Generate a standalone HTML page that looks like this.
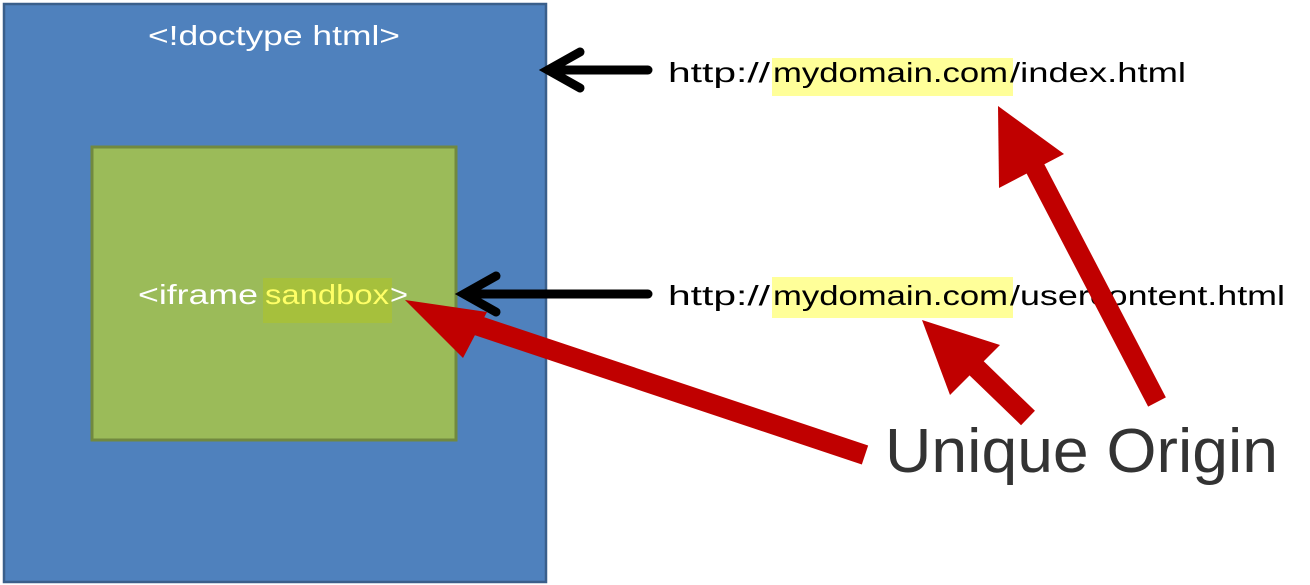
<!DOCTYPE html>
<html><head><meta charset="utf-8"><style>html,body{margin:0;padding:0;background:#fff}svg{display:block}</style></head>
<body>
<svg width="1310" height="585" viewBox="0 0 1310 585" xmlns="http://www.w3.org/2000/svg" font-family="Liberation Sans, sans-serif">
<rect x="4" y="4" width="542" height="578" fill="#4f81bd" stroke="#3a5f8b" stroke-width="2.5"/>
<rect x="92" y="147" width="364" height="293" fill="#9bbb59" stroke="#71893f" stroke-width="3"/>
<rect x="263" y="278" width="129" height="45" fill="#a6c03c"/>
<text x="148" y="45" fill="#fff" font-size="28" textLength="252" lengthAdjust="spacingAndGlyphs">&lt;!doctype html&gt;</text>
<text x="138" y="304" fill="#fff" font-size="28" textLength="120" lengthAdjust="spacingAndGlyphs">&lt;iframe</text>
<text x="265" y="304" fill="#ffff66" font-size="28" textLength="124" lengthAdjust="spacingAndGlyphs">sandbox</text>
<text x="390" y="304" fill="#fff" font-size="28" textLength="18" lengthAdjust="spacingAndGlyphs">&gt;</text>
<rect x="772" y="58" width="241" height="38" fill="#ffff99"/>
<rect x="772" y="277" width="241" height="41" fill="#ffff99"/>
<g font-size="28" fill="#000">
<text x="668" y="82" textLength="102" lengthAdjust="spacingAndGlyphs">http://</text>
<text x="773" y="82" textLength="235" lengthAdjust="spacingAndGlyphs">mydomain.com</text>
<text x="1010" y="82" textLength="176" lengthAdjust="spacingAndGlyphs">/index.html</text>
<text x="668" y="305" textLength="102" lengthAdjust="spacingAndGlyphs">http://</text>
<text x="773" y="305" textLength="235" lengthAdjust="spacingAndGlyphs">mydomain.com</text>
<text x="1010" y="305" textLength="275" lengthAdjust="spacingAndGlyphs">/usercontent.html</text>
</g>
<g stroke="#000" stroke-width="9" stroke-linecap="round" fill="none">
<line x1="648" y1="70" x2="552" y2="70"/><polyline points="580,52 548,70 580,88"/>
<line x1="648" y1="294" x2="466" y2="294"/><polyline points="496,276 464,294 496,312"/>
</g>
<g fill="#c00000">
<line x1="865" y1="455" x2="455" y2="318" stroke="#c00000" stroke-width="20"/>
<polygon points="405,300 487,312 463,358"/>
<line x1="1157" y1="402" x2="1035" y2="168" stroke="#c00000" stroke-width="20"/>
<polygon points="998,106 1064,154 999,188"/>
<line x1="1028" y1="418" x2="968" y2="360" stroke="#c00000" stroke-width="20"/>
<polygon points="922,320 1000,345 950,395"/>
</g>
<text x="885" y="472" font-size="62" fill="#333" textLength="393" lengthAdjust="spacingAndGlyphs">Unique Origin</text>
</svg>
</body></html>
